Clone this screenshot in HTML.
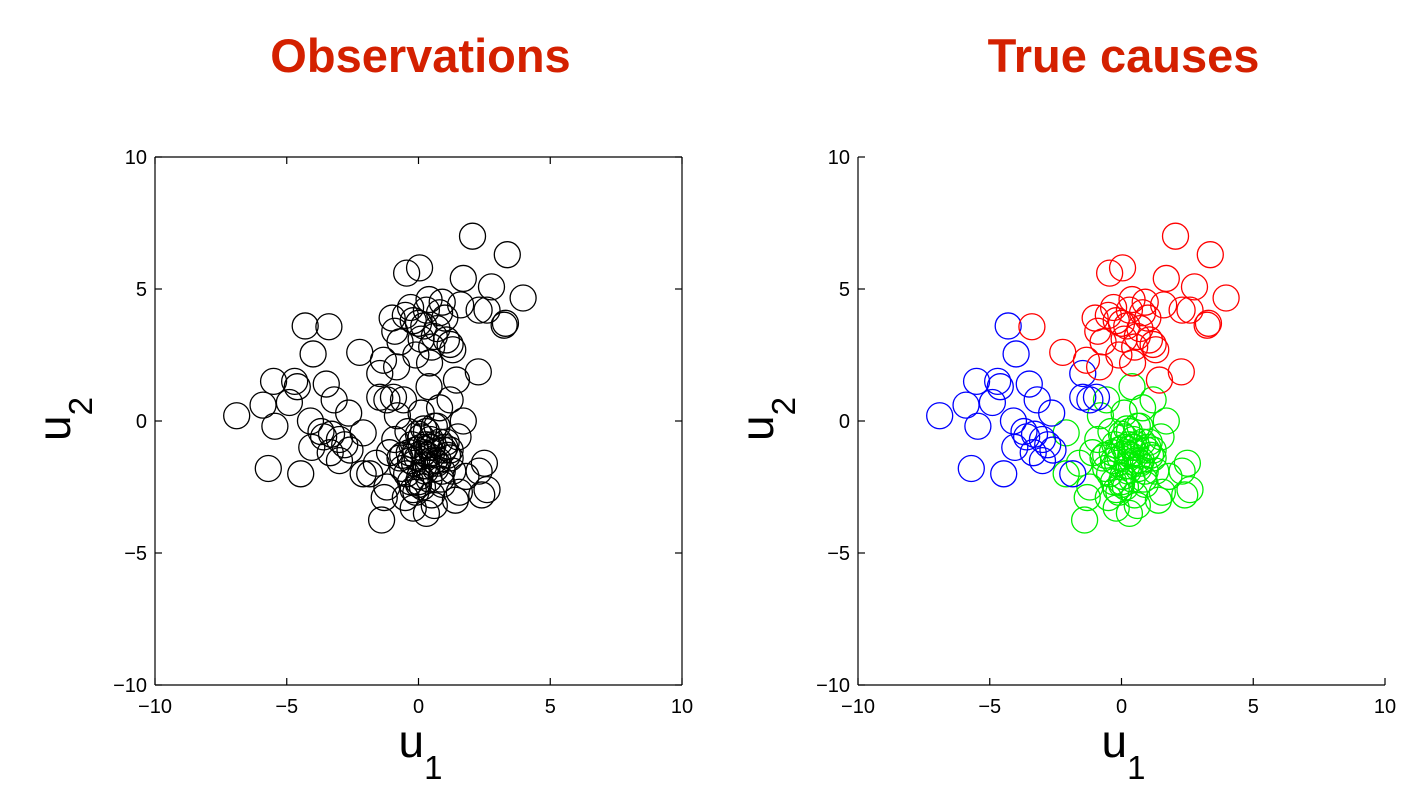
<!DOCTYPE html>
<html><head><meta charset="utf-8"><style>
body{margin:0;background:#fff;}
svg{display:block;font-family:"Liberation Sans",Arial,sans-serif;}
</style></head><body>
<svg id="fig" width="1412" height="798"></svg>
<script>
const redU1=[2.05,3.37,3.97,3.25,2.77,1.7,0.04,-0.45,-3.4,-2.23,2.27,1.44,2.3,1.06,0.42,-1.33,-0.83,-0.2,0.3,0.7,-0.5,0.1,0.9,-0.9,0.5,1.3,-0.3,0.2,0.8,-0.1,1.0,0.6,-0.7,2.6,1.6,0.0,0.4,-1.0,1.2,3.3];
const redU2=[7.0,6.3,4.66,3.63,5.08,5.4,5.8,5.6,3.57,2.6,1.86,1.55,4.2,3.07,2.2,2.3,2.05,3.8,4.2,3.5,4.0,3.1,4.5,3.4,2.8,2.7,4.3,3.6,4.1,2.5,3.9,3.2,3.0,4.2,4.4,3.7,4.6,3.9,2.9,3.7];
const blueU1=[-4.3,-4.0,-6.9,-5.5,-4.7,-5.9,-5.45,-5.7,-4.47,-3.5,-4.6,-4.9,-4.1,-3.2,-2.65,-4.05,-3.6,-3.0,-2.6,-3.0,-1.85,-1.47,-1.47,-0.95,-3.35,-3.3,-2.8,-3.7,-1.2];
const blueU2=[3.6,2.54,0.2,1.5,1.5,0.6,-0.2,-1.8,-2.0,1.4,1.3,0.7,0,0.8,0.3,-1.0,-0.6,-0.7,-1.1,-1.5,-2.0,1.8,0.9,0.9,-1.2,-0.5,-0.9,-0.4,0.8];
const greenU1=[-1.4,2.6,2.5,0.4,1.2,-2.1,-2.1,-1.3,0.3,1.55,1.7,-0.57,0.2,0.5,-0.3,0.8,0.0,-0.6,1.1,0.4,-0.9,0.7,1.5,-0.2,0.3,0.9,-1.1,0.1,1.3,-0.5,0.6,2.3,-1.6,0.2,-0.8,1.0,0.5,-0.1,1.8,-0.4,0.8,0.0,-1.2,1.4,0.3,2.4,-0.7,0.6,1.2,-0.2,
 0.1,0.35,-0.15,0.55,0.25,-0.35,0.75,0.05,0.45,-0.05,0.65,0.15,-0.25,0.95,0.3,-0.45,0.85,0.2,0.5,-0.1,1.05,0.4,-0.6,0.7,0.0,1.2,-0.3,0.6,0.1,0.9];
const greenU2=[-3.75,-2.6,-1.6,1.3,0.8,-0.45,-2.0,-2.9,-3.5,-2.7,0.0,0.8,-1.2,-1.0,-1.5,-0.8,-0.5,-1.8,-1.3,-2.2,-0.7,-0.2,-0.6,-2.6,-1.7,-2.4,-1.2,0.3,-1.9,-2.9,-3.2,-1.9,-1.6,-0.3,0.2,-1.0,-2.8,-1.1,-2.1,-0.4,0.5,-2.3,-2.5,-3.0,-0.9,-2.8,-1.4,-1.5,-1.1,-3.3,
 -1.0,-1.3,-1.6,-0.9,-1.9,-1.2,-1.5,-2.1,-0.7,-1.4,-1.8,-2.5,-0.9,-1.1,-0.4,-2.0,-2.2,-1.7,-1.2,-2.7,-0.8,-1.0,-1.3,-1.6,-2.4,-1.4,-2.3,-0.2,-0.6,-1.9];
const ticks=[-10,-5,0,5,10];
const NS='http://www.w3.org/2000/svg';
const svg=document.getElementById('fig');
function mk(t,a,p){const e=document.createElementNS(NS,t);for(const k in a)e.setAttribute(k,a[k]);(p||svg).appendChild(e);return e;}
function panel(x0,title,box,colored,pname){
  const g=mk('g',{});
  
  
  const L=x0,R=x0+527,T=157,B=685;
  const sx=v=>L+(v+10)/20*(R-L), sy=v=>B-(v+10)/20*(B-T);
  const t=mk('text',{x:(L+R)/2+2,y:72,'text-anchor':'middle','font-size':47,'font-weight':'bold',fill:'#d42000'},g);t.textContent=title;
  
  const ax=mk('g',{stroke:'#000','stroke-width':1.2,fill:'none'},g);
  
  mk('line',{x1:L,y1:B,x2:R,y2:B},ax);mk('line',{x1:L,y1:T,x2:L,y2:B},ax);
  if(box){mk('line',{x1:L,y1:T,x2:R,y2:T},ax);mk('line',{x1:R,y1:T,x2:R,y2:B},ax);}
  ticks.forEach(v=>{
    mk('line',{x1:sx(v),y1:B,x2:sx(v),y2:B-7},ax);
    mk('line',{x1:L,y1:sy(v),x2:L+7,y2:sy(v)},ax);
    if(box){mk('line',{x1:sx(v),y1:T,x2:sx(v),y2:T+7},ax);mk('line',{x1:R,y1:sy(v),x2:R-7,y2:sy(v)},ax);}
    const a=mk('text',{x:sx(v),y:B+28,'text-anchor':'middle','font-size':20},g);a.textContent=(v<0?'\u2212':'')+Math.abs(v);
    
    const b=mk('text',{x:L-8,y:sy(v)+7,'text-anchor':'end','font-size':20},g);b.textContent=(v<0?'\u2212':'')+Math.abs(v);
    
  });
  const xl=mk('text',{x:(L+R)/2-20,y:757,'font-size':46},g);xl.innerHTML='u<tspan font-size="33" dy="22">1</tspan>';
  
  const yl=mk('text',{transform:`translate(${L-85},${(T+B)/2+20}) rotate(-90)`,'font-size':46},g);yl.innerHTML='u<tspan font-size="33" dy="22">2</tspan>';
  
  const sets=[[greenU1,greenU2,'#00ee00','green'],[blueU1,blueU2,'#0000ff','blue'],[redU1,redU2,'#ff0000','red']];
  sets.forEach(([xs,ys,c,n])=>{
    xs.forEach((v,i)=>{
      const e=mk('circle',{cx:sx(v),cy:sy(ys[i]),r:13,fill:'none',stroke:colored?c:'#000','stroke-width':1.3},g);
      
      
    });
  });
}
panel(155,'Observations',true,false,'observations-panel');
panel(858,'True causes',false,true,'true-causes-panel');
</script>
</body></html>
